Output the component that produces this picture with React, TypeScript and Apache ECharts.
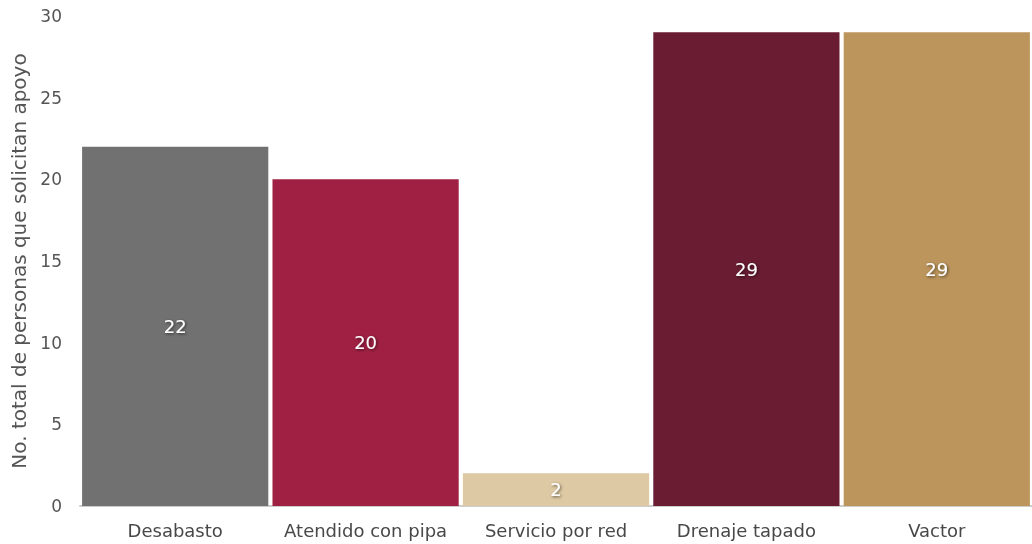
import React, { useEffect, useRef } from "react";
import * as echarts from "echarts";

const categories = ["Desabasto", "Atendido con pipa", "Servicio por red", "Drenaje tapado", "Vactor"];
const values = [22, 20, 2, 29, 29];
const colors = ["#707170", "#9F2042", "#DDC9A3", "#691C32", "#BC955C"];
const yAxisName = "No. total de personas que solicitan apoyo";
const FONT = "DejaVu Sans";

export default function App() {
  const ref = useRef<HTMLDivElement>(null);
  useEffect(() => {
    if (!ref.current) return;
    const chart = echarts.init(ref.current, null, { renderer: "svg" });
    chart.setOption({
      animation: false,
      textStyle: { fontFamily: FONT },
      grid: { left: 80, right: 0, top: 16, bottom: 38, containLabel: false },
      xAxis: {
        type: "category",
        data: categories,
        axisTick: { show: false },
        axisLine: { lineStyle: { color: "#cccccc", width: 2 } },
        axisLabel: { color: "#484848", fontSize: 18, margin: 15, interval: 0, hideOverlap: false, fontFamily: FONT },
      },
      yAxis: {
        type: "value",
        min: 0,
        max: 30,
        interval: 5,
        name: yAxisName,
        nameLocation: "middle",
        nameGap: 51,
        nameTextStyle: { color: "#555555", fontSize: 20, fontFamily: FONT },
        splitLine: { show: false },
        axisLine: { show: false },
        axisTick: { show: false },
        axisLabel: { color: "#555555", fontSize: 17, margin: 18, fontFamily: FONT },
      },
      series: [
        {
          type: "bar",
          data: values.map((v, i) => ({ value: v, itemStyle: { color: colors[i] } })),
          barCategoryGap: "2.2%",
          label: {
            show: true,
            position: "inside",
            color: "#ffffff",
            fontSize: 18,
            fontFamily: FONT,
            textShadowColor: "rgba(0,0,0,0.6)",
            textShadowBlur: 3,
            textShadowOffsetX: 1,
            textShadowOffsetY: 1,
          },
        },
      ],
    });
    return () => chart.dispose();
  }, []);
  return (
    <div
      ref={ref}
      style={{ position: "fixed", left: 0, top: 0, width: 1032, height: 544 }}
    />
  );
}
